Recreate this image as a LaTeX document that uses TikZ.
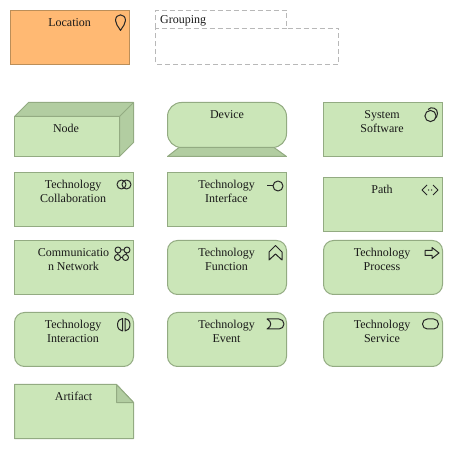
\documentclass[tikz,border=0pt]{standalone}
\usepackage{fontspec}
\setmainfont{Liberation Serif}
\definecolor{gfill}{HTML}{CBE6B8}
\definecolor{gdark}{HTML}{B2CDA1}
\definecolor{gline}{HTML}{93AB82}
\definecolor{ofill}{HTML}{FFB973}
\definecolor{oline}{HTML}{BC8E58}
\definecolor{dashc}{HTML}{B8B8B8}
\tikzset{
  x=1pt,y=-1pt,
  boxbase/.style={draw=gline,fill=gfill,line width=1pt,anchor=north west,inner sep=0pt,outer sep=0pt,minimum width=119pt,minimum height=54pt},
  plainbox/.style={boxbase},
  roundbox/.style={boxbase,rounded corners=10pt},
  darkpart/.style={draw=gline,fill=gdark,line width=1pt,line join=round},
  lightpart/.style={draw=gline,fill=gfill,line width=1pt,line join=round},
  lbl/.style={font=\fontsize{12}{14}\selectfont,align=center,inner sep=0pt,anchor=north,text=black!90,yshift=-2pt},
  icon/.style={draw=black!85,line width=1pt,line join=round},
  groupline/.style={draw=dashc,line width=0.8pt,dash pattern=on 5pt off 3pt},
}
\begin{document}
\begin{tikzpicture}
\useasboundingbox (0,0) rectangle (453,449);
% Location
\node[boxbase,draw=oline,fill=ofill] (location) at (10.5,10.5) {};
\node[lbl] (locationT) at (69.6,16) {Location};
\draw[icon] (120.5,30.5) .. controls (118,26) and (115.5,24) .. (115.5,20.5) .. controls (115.5,13) and (125.5,13) .. (125.5,20.5) .. controls (125.5,24) and (123,26) .. (120.5,30.5) -- cycle;
% Grouping
\node[draw=none,minimum width=131pt,minimum height=18pt,anchor=north west,inner sep=0pt,outer sep=0pt] (grouptab) at (155.5,10.5) {};
\node[draw=none,minimum width=183pt,minimum height=36pt,anchor=north west,inner sep=0pt,outer sep=0pt] (groupbody) at (155.5,28.5) {};
\draw[groupline] (grouptab.south west) -- (grouptab.north west) -- (grouptab.north east) -- (grouptab.south east) -- (groupbody.north east) -- (groupbody.south east) -- (groupbody.south west) -- (groupbody.north west) -- (grouptab.south east);
\node[lbl,anchor=north west] (groupingT) at (160,13) {Grouping};
% Node
\draw[darkpart] (14.5,116.5) -- (28.5,102.5) -- (133.5,102.5) -- (133.5,142.5) -- (119.5,156.5) -- (119.5,116.5) -- cycle;
\draw[darkpart] (119.5,116.5) -- (133.5,102.5);
\node[boxbase,minimum width=105pt,minimum height=40pt] (nodebox) at (14.5,116.5) {};
\node[lbl] (nodeT) at (66,122) {Node};
% Device
\draw[darkpart] (179,147.5) -- (167.5,156.5) -- (286.5,156.5) -- (274,147.5) -- cycle;
\node[boxbase,rounded corners=14pt,minimum height=45pt] (device) at (167.5,102.5) {};
\node[lbl] (deviceT) at (227,108) {Device};
% System Software
\node[plainbox] (syssw) at (323.5,102.5) {};
\node[lbl] (sysswT) at (382,108) {System\\Software};
\draw[icon] (428,109.5) .. controls (431,106) and (438,108) .. (437.5,113.5) .. controls (437.3,116.5) and (436,118) .. (435,118.5);
\draw[icon] (430.5,116) circle[radius=5.6];
% Technology Collaboration
\node[plainbox] (collab) at (14.5,172.5) {};
\node[lbl] (collabT) at (73,178) {Technology\\Collaboration};
\draw[icon] (121.5,184.5) circle[radius=4.5];
\draw[icon] (126.5,184.5) circle[radius=4.5];
% Technology Interface
\node[plainbox] (iface) at (167.5,172.5) {};
\node[lbl] (ifaceT) at (226.5,178) {Technology\\Interface};
\draw[icon] (267,186) -- (273,186);
\draw[icon] (278,186) circle[radius=5];
% Path
\node[plainbox] (pathbox) at (323.5,177.5) {};
\node[lbl] (pathT) at (382,183) {Path};
\draw[icon] (427,185) -- (422,190) -- (427,195);
\draw[icon] (433,185) -- (438,190) -- (433,195);
\fill[black!85] (428.6,190) circle[radius=0.7] (431.6,190) circle[radius=0.7];
% Communication Network
\node[plainbox] (comm) at (14.5,240.5) {};
\node[lbl] (commT) at (73.5,246) {Communicatio\\n Network};
\draw[icon] (118,250) -- (127,250) -- (125.5,257.5) -- (117.5,257.5) -- cycle;
\draw[icon,fill=gfill] (118,250) circle[radius=3];
\draw[icon,fill=gfill] (127,250) circle[radius=3];
\draw[icon,fill=gfill] (125.5,257.5) circle[radius=3];
\draw[icon,fill=gfill] (117.5,257.5) circle[radius=3];
% Technology Function
\node[roundbox] (func) at (167.5,240.5) {};
\node[lbl] (funcT) at (226.5,246) {Technology\\Function};
\draw[icon] (275.5,245.5) -- (282,252) -- (282,260) -- (275.5,254) -- (269,260) -- (269,252) -- cycle;
% Technology Process
\node[roundbox] (proc) at (323.5,240.5) {};
\node[lbl] (procT) at (382,246) {Technology\\Process};
\draw[icon] (425,250.5) -- (432,250.5) -- (432,247.5) -- (439,253) -- (432,258.5) -- (432,255.5) -- (425,255.5) -- cycle;
% Technology Interaction
\node[roundbox] (inter) at (14.5,312.5) {};
\node[lbl] (interT) at (73,318) {Technology\\Interaction};
\draw[icon] (122.5,318.5) arc[start angle=-90,end angle=-270,x radius=5,y radius=6.25] -- cycle;
\draw[icon] (125,318.5) arc[start angle=-90,end angle=90,x radius=5,y radius=6.25] -- cycle;
% Technology Event
\node[roundbox] (event) at (167.5,312.5) {};
\node[lbl] (eventT) at (226.5,318) {Technology\\Event};
\draw[icon] (267,319) -- (279,319) arc[start angle=-90,end angle=90,radius=5] -- (267,329) .. controls (272,326.5) and (272,321.5) .. (267,319) -- cycle;
% Technology Service
\node[roundbox] (service) at (323.5,312.5) {};
\node[lbl] (serviceT) at (382,318) {Technology\\Service};
\draw[icon,rounded corners=4.9pt] (422.5,319) rectangle (438.5,329);
% Artifact
\node[boxbase,draw=none,fill=none] (artifact) at (14.5,384.5) {};
\draw[lightpart] (artifact.north west) -- (116.5,384.5) -- (133.5,402.5) -- (artifact.south east) -- (artifact.south west) -- cycle;
\draw[darkpart] (116.5,384.5) -- (133.5,402.5) -- (116.5,402.5) -- cycle;
\node[lbl] (artifactT) at (73.6,390) {Artifact};
\end{tikzpicture}
\end{document}
